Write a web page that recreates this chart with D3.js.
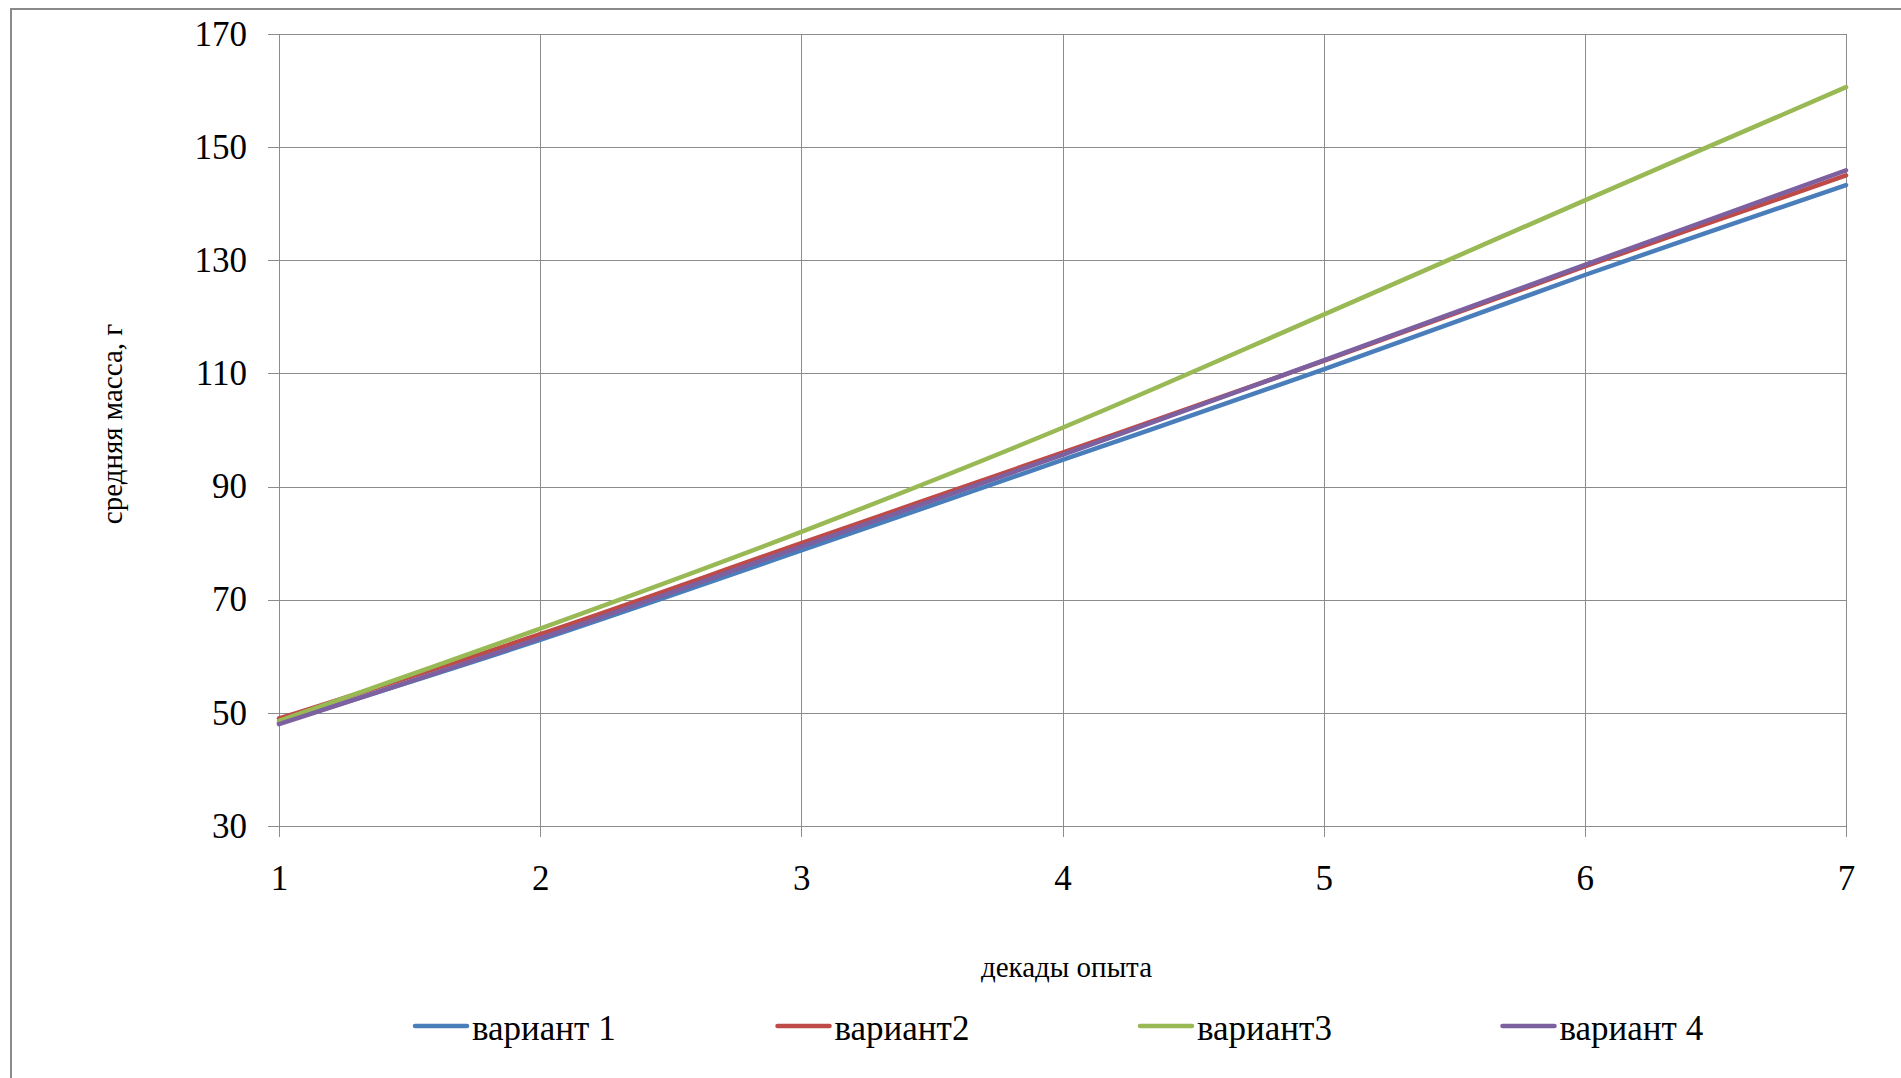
<!DOCTYPE html>
<html>
<head>
<meta charset="utf-8">
<script src="https://cdn.jsdelivr.net/npm/d3@7"></script>
<style>
	html, body { margin: 0; padding: 0; background: #fff; overflow: hidden; }
	svg text { font-family: "Liberation Serif", "Times New Roman", serif; }
</style>
</head>
<body>
<div id="chart"></div>
<script>
// data
const DECADES = [1, 2, 3, 4, 5, 6, 7];
const SERIES_NAMES = ['вариант 1', 'вариант2', 'вариант3', 'вариант 4'];
const VARIANT_1 = [48.2, 62.9, 78.7, 94.7, 110.7, 127.4, 143.3];
const VARIANT_2 = [49.0, 63.9, 80.0, 96.0, 112.2, 128.9, 145.0];
const VARIANT_3 = [48.6, 64.9, 82.0, 100.4, 120.4, 140.6, 160.6];
const VARIANT_4 = [48.0, 63.2, 79.4, 95.6, 112.3, 129.2, 145.9];
const Y_TICKS = [30, 50, 70, 90, 110, 130, 150, 170];
const X_TITLE = 'декады опыта';
const Y_TITLE = 'средняя масса, г';

const WIDTH = 1901;
const HEIGHT = 1078;
const PLOT_LEFT = 279;
const PLOT_RIGHT = 1846;
const PLOT_TOP = 34;
const PLOT_BOTTOM = 826;
const TICK_OUT = 11;
const COLORS = ['#4a7ebb', '#be4b48', '#98b954', '#7d60a0'];
const GRID_COLOR = '#8c8c8c';
const FONT = '"Liberation Serif", "Times New Roman", serif';
const TICK_FONT_SIZE = '35px';
const TITLE_FONT_SIZE = '29px';
const LINE_WIDTH = 4.5;

const main = () => {
	const seriesValues = [VARIANT_1, VARIANT_2, VARIANT_3, VARIANT_4];
	const series = SERIES_NAMES.map((name, i) => {
		return {
			name,
			color: COLORS[i],
			points: DECADES.map((d, j) => ({ x: d, y: seriesValues[i][j] }))
		}
	});

	const svg = d3.select('#chart')
		.append('svg')
		.attr('width', WIDTH)
		.attr('height', HEIGHT)
		.attr('font-family', FONT);

	// outer chart border
	svg.append('rect')
		.attr('x', 11)
		.attr('y', 9)
		.attr('width', WIDTH + 50)
		.attr('height', HEIGHT + 50)
		.attr('fill', '#fff')
		.attr('stroke', '#8a8a8a')
		.attr('stroke-width', 2);

	// scales
	const xScale = d3.scaleLinear()
		.domain([1, 7])
		.range([PLOT_LEFT, PLOT_RIGHT]);
	const yScale = d3.scaleLinear()
		.domain([30, 170])
		.range([PLOT_BOTTOM, PLOT_TOP]);

	// gridlines, with the small tick stubs poking out of the plot
	const yGrid = svg.append('g')
		.attr('transform', `translate(${PLOT_LEFT}, 0)`)
		.call(d3.axisLeft(yScale)
			.tickValues(Y_TICKS)
			.tickSize(-(PLOT_RIGHT - PLOT_LEFT))
			.tickSizeOuter(0)
			.tickFormat(''));
	yGrid.selectAll('.tick line')
		.attr('x1', -TICK_OUT);
	const xGrid = svg.append('g')
		.attr('transform', `translate(0, ${PLOT_BOTTOM})`)
		.call(d3.axisBottom(xScale)
			.tickValues(DECADES)
			.tickSize(-(PLOT_BOTTOM - PLOT_TOP))
			.tickSizeOuter(0)
			.tickFormat(''));
	xGrid.selectAll('.tick line')
		.attr('y1', TICK_OUT);
	svg.selectAll('.domain').remove();
	svg.selectAll('.tick line')
		.attr('stroke', GRID_COLOR)
		.attr('stroke-width', 1)
		.attr('shape-rendering', 'crispEdges');

	// tick labels
	const yAxis = svg.append('g')
		.attr('transform', `translate(${PLOT_LEFT}, 0)`)
		.call(d3.axisLeft(yScale)
			.tickValues(Y_TICKS)
			.tickSize(TICK_OUT)
			.tickPadding(21));
	const xAxis = svg.append('g')
		.attr('transform', `translate(0, ${PLOT_BOTTOM})`)
		.call(d3.axisBottom(xScale)
			.tickValues(DECADES)
			.tickSize(TICK_OUT)
			.tickPadding(28)
			.tickFormat(d3.format('d')));
	[xAxis, yAxis].forEach(axis => {
		axis.attr('font-family', FONT);
		axis.select('.domain').remove();
		axis.selectAll('.tick line').remove();
		axis.selectAll('text')
			.style('font-family', FONT)
			.style('font-size', TICK_FONT_SIZE)
			.attr('fill', '#000');
	});

	// lines
	const line = d3.line()
		.x(d => xScale(d.x))
		.y(d => yScale(d.y))
		.curve(d3.curveCatmullRom.alpha(0.5));
	svg.selectAll('.series')
		.data(series)
		.enter()
		.append('path')
		.attr('class', 'series')
		.attr('d', d => line(d.points))
		.attr('fill', 'none')
		.attr('stroke', d => d.color)
		.attr('stroke-width', LINE_WIDTH)
		.attr('stroke-linejoin', 'round')
		.attr('stroke-linecap', 'round');

	// axis titles
	svg.append('text')
		.attr('x', (PLOT_LEFT + PLOT_RIGHT) / 2 + 4)
		.attr('y', 977)
		.style('font-family', FONT)
		.style('font-size', TITLE_FONT_SIZE)
		.style('text-anchor', 'middle')
		.text(X_TITLE);
	svg.append('text')
		.attr('transform', `translate(122, 424) rotate(-90)`)
		.style('font-family', FONT)
		.style('font-size', TITLE_FONT_SIZE)
		.style('text-anchor', 'middle')
		.text(Y_TITLE);

	// legend
	const legendScale = d3.scaleBand()
		.domain(SERIES_NAMES)
		.range([415, 1865]);
	const legend = svg.selectAll('.legend')
		.data(series)
		.enter()
		.append('g')
		.attr('class', 'legend')
		.attr('transform', d => `translate(${legendScale(d.name)}, 1026)`);
	legend.append('line')
		.attr('x1', 0)
		.attr('x2', 52)
		.attr('stroke', d => d.color)
		.attr('stroke-width', LINE_WIDTH)
		.attr('stroke-linecap', 'round');
	legend.append('text')
		.attr('x', 57)
		.attr('y', 14)
		.attr('font-family', FONT)
		.style('font-family', FONT)
		.style('font-size', TICK_FONT_SIZE)
		.text(d => d.name);
}

main();
</script>
</body>
</html>
